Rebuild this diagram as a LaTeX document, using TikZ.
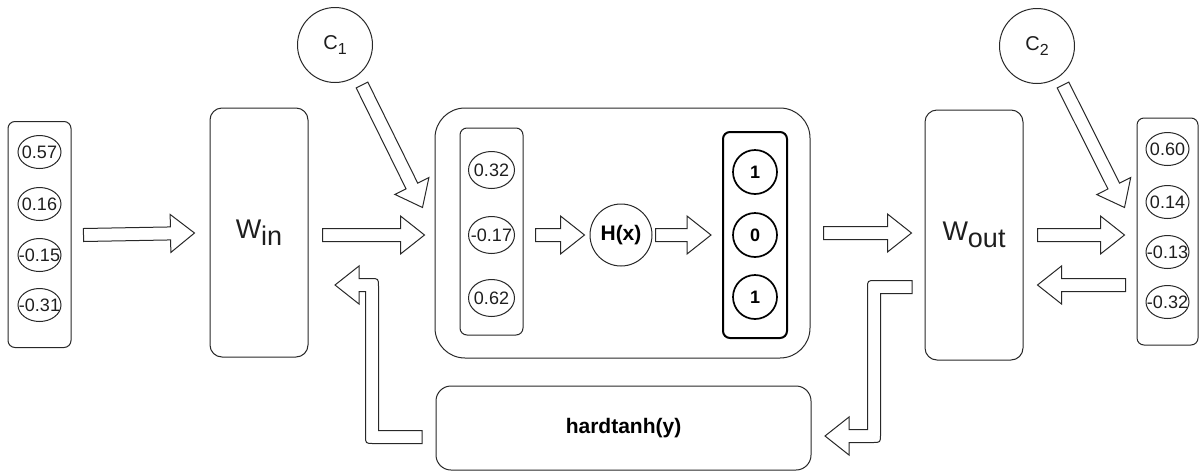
\documentclass[tikz,border=0pt]{standalone}
\usepackage{fontspec}
\setmainfont{Liberation Sans}
\usetikzlibrary{calc,shapes.geometric}
\definecolor{ln}{RGB}{40,40,40}
\definecolor{tx}{RGB}{30,30,30}
\newcommand\nm[1]{\makebox[0pt]{#1}}
\newcommand\barrow[2]{%
  \path #1 coordinate (ba1);
  \path #2 coordinate (ba2);
  \path let \p1=(ba1), \p2=(ba2) in \pgfextra{%
    \pgfmathsetmacro\baang{atan2(\y2-\y1,\x2-\x1)}%
    \pgfmathsetmacro\balen{veclen(\x2-\x1,\y2-\y1)}%
    \xdef\baAng{\baang}\xdef\baLen{\balen}};
  \draw[blockarrow, shift={(ba1)}, rotate=\baAng, x=1pt, y=1pt]
    (0,-6.5) -- ({\baLen-24},-6.5) -- ({\baLen-24},-19) -- (\baLen,0)
    -- ({\baLen-24},19) -- ({\baLen-24},6.5) -- (0,6.5) -- cycle;
}
\tikzset{
  blockarrow/.style={draw=ln, line width=1pt, fill=white, line join=miter},
  vecbox/.style={draw=ln, line width=1pt, rounded corners=7pt, inner sep=0pt},
  wbox/.style={draw=ln, line width=1pt, rounded corners=12pt, inner sep=0pt,
    text=tx, font=\fontsize{27}{27}\selectfont},
  numc/.style={ellipse, draw=ln, line width=1pt, inner sep=0pt, text=tx,
    minimum width=43pt, minimum height=33pt, font=\fontsize{18}{18}\selectfont},
  numcb/.style={ellipse, draw=ln, line width=1pt, inner sep=0pt, text=tx,
    minimum width=46pt, minimum height=37pt, font=\fontsize{18}{18}\selectfont},
  bitc/.style={circle, draw=black, line width=1.7pt, inner sep=0pt, text=black,
    minimum size=44pt, font=\bfseries\fontsize{18}{18}\selectfont},
  cnode/.style={circle, draw=ln, line width=1pt, inner sep=0pt, text=tx,
    minimum size=75pt, font=\fontsize{20}{20}\selectfont},
}
\begin{document}
\begin{tikzpicture}[x=1pt,y=-1pt]
\useasboundingbox (0,0) rectangle (1200,472);

% input vector
\node[vecbox, minimum width=63pt, minimum height=226pt] (vin) at (39.5,234.5) {};
\foreach \yy/\t [count=\i] in {152/0.57, 204/0.16, 255/-0.15, 305/-0.31}
  \node[numc] (vin\i) at (39.5,\yy) {\nm{\t}};

% W_in
\node[wbox, minimum width=98pt, minimum height=249pt] (win) at (259,232.5)
  {W\raisebox{-7pt}{in}};

% c1
\node[cnode] (c1) at (335,45) {C\raisebox{-5pt}{\fontsize{16}{16}\selectfont 1}};

% big container
\node[draw=ln, line width=1pt, rounded corners=30pt, minimum width=375pt,
  minimum height=250pt, inner sep=0pt] (big) at (622.5,233) {};

% hidden pre-activation vector
\node[vecbox, minimum width=63pt, minimum height=207pt] (vh) at (491.5,231.5) {};
\foreach \yy/\t [count=\i] in {170/0.32, 235/-0.17, 298/0.62}
  \node[numcb] (vh\i) at (491.5,\yy) {\nm{\t}};

% H(x)
\node[circle, draw=ln, line width=1pt, minimum size=62pt, inner sep=0pt, text=black,
  font=\bfseries\fontsize{21}{21}\selectfont] (hx) at (621,235) {H(x)};

% binary vector
\node[vecbox, draw=black, line width=2pt, minimum width=64pt, minimum height=206pt] (vb) at (755,235) {};
\foreach \yy/\t [count=\i] in {172/1, 235/0, 297/1}
  \node[bitc] (vb\i) at (755,\yy) {\t};

% W_out
\node[wbox, minimum width=98pt, minimum height=250pt] (wout) at (974,235)
  {W\raisebox{-7pt}{out}};

% c2
\node[cnode] (c2) at (1037,46) {C\raisebox{-5pt}{\fontsize{16}{16}\selectfont 2}};

% output vector
\node[vecbox, minimum width=61pt, minimum height=227pt] (vout) at (1167.5,231.5) {};
\foreach \yy/\t [count=\i] in {149/0.60, 202/0.14, 252/-0.13, 302/-0.32}
  \node[numc] (vout\i) at (1167.5,\yy) {\nm{\t}};

% hardtanh
\node[draw=ln, line width=1pt, rounded corners=15pt, minimum width=375pt,
  minimum height=84pt, inner sep=0pt, text=black,
  font=\bfseries\fontsize{21}{21}\selectfont] (ht) at (623.5,428) {hardtanh(y)};

% straight block arrows
\barrow{($(vin.east)+(12,0.5)$)}{($(win.west)+(-15,0.5)$)}
\barrow{($(win.east)+(14,2.5)$)}{($(big.west)+(-10,2)$)}
\barrow{($(c1)+(27,40)$)}{($(big.north west)+(-12,100)$)}
\barrow{($(vh.east)+(12,3.5)$)}{($(hx.west)+(-5,0)$)}
\barrow{($(hx.east)+(3,0)$)}{($(vb.west)+(-11,0)$)}
\barrow{($(big.east)+(13,0)$)}{($(wout.west)+(-13,-2)$)}
\barrow{($(wout.east)+(14,0)$)}{($(vout.west)+(-12,3.5)$)}
\barrow{($(c2)+(26,39)$)}{($(vout.north west)+(-12,90)$)}
\barrow{($(vout.west)+(-11,53.5)$)}{($(wout.east)+(14,50)$)}

% bent block arrows
\draw[blockarrow] (912,280.5) -- (875.5,280.5) .. controls (867.5,280.5) .. (867.5,288.5)
  -- (867.5,429.5) -- (849,429.5) -- (849,417) -- (825,436) -- (849,455) -- (849,442.5)
  -- (872.5,442.5) .. controls (880.5,442.5) .. (880.5,434.5) -- (880.5,293.5)
  -- (912,293.5) -- cycle;
\draw[blockarrow] (422,430.5) -- (378.5,430.5) -- (378.5,286.5)
  .. controls (378.5,278.5) .. (370.5,278.5) -- (359,278.5) -- (359,266) -- (335,285)
  -- (359,304) -- (359,291.5) -- (365.5,291.5) -- (365.5,435.5)
  .. controls (365.5,443.5) .. (373.5,443.5) -- (422,443.5) -- cycle;
\end{tikzpicture}
\end{document}
